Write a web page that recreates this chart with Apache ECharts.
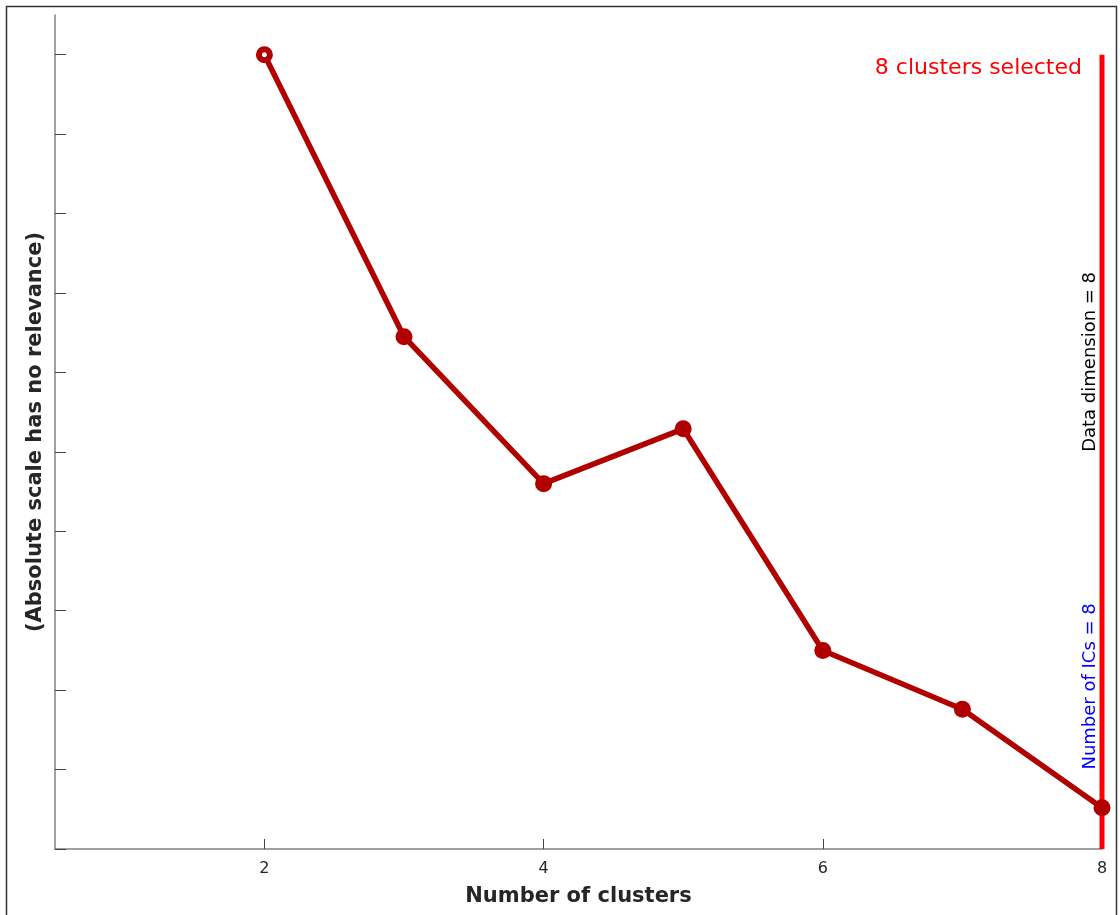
<!DOCTYPE html>
<html>
<head>
<meta charset="utf-8">
<script src="https://cdn.jsdelivr.net/npm/echarts@6/dist/echarts.min.js"></script>
<style>
  html, body { margin: 0; padding: 0; background: #fff; }
  #chart { width: 1120px; height: 915px; }
</style>
</head>
<body>
<div id="chart"></div>
<script>
// Cluster count vs. relative criterion value
const clusters = [2, 3, 4, 5, 6, 7, 8];
const scores = [10.0, 6.45, 4.60, 5.29, 2.50, 1.76, 0.52];
const xTicks = [2, 4, 6, 8];
const yTicks = [0, 1, 2, 3, 4, 5, 6, 7, 8, 9, 10];
const selectedK = 8;
const selectedTop = 10;
const dimensionLabelAt = 5;
const icLabelAt = 1;

const FONT = 'DejaVu Sans';

const chart = echarts.init(document.getElementById('chart'), null, { renderer: 'canvas' });

const pointData = clusters.map((k, i) => {
  const item = { value: [k, scores[i]] };
  if (i === 0) {
    // first solution drawn as an open marker
    item.itemStyle = { color: '#ffffff', borderColor: '#b00000', borderWidth: 6 };
    item.symbolSize = 11;
  }
  return item;
});

chart.setOption({
  animation: false,
  backgroundColor: '#ffffff',
  grid: { left: 55, right: 18, top: 15, bottom: 66, containLabel: false },
  graphic: [{
    type: 'rect',
    shape: { x: 6.5, y: 6.5, width: 1110, height: 930 },
    style: { fill: 'none', stroke: '#333', lineWidth: 1.5 },
    silent: true
  }],
  xAxis: {
    type: 'value',
    min: 0.5,
    max: 8,
    name: 'Number of clusters',
    nameLocation: 'middle',
    nameGap: 37,
    nameTextStyle: { fontFamily: FONT, fontWeight: 'bold', fontSize: 21, color: '#262626' },
    axisLine: { show: true, onZero: false, lineStyle: { color: '#808080', width: 1.5 } },
    axisTick: { show: true, inside: true, length: 10, customValues: xTicks, lineStyle: { color: '#444', width: 1 } },
    axisLabel: { show: true, customValues: xTicks, margin: 12, fontFamily: FONT, fontSize: 16, color: '#262626' },
    splitLine: { show: false }
  },
  yAxis: {
    type: 'value',
    min: 0,
    max: 10.5,
    interval: 1,
    name: '(Absolute scale has no relevance)',
    nameLocation: 'middle',
    nameGap: 9,
    nameTextStyle: { fontFamily: FONT, fontWeight: 'bold', fontSize: 21, color: '#262626' },
    axisLine: { show: true, onZero: false, lineStyle: { color: '#808080', width: 1.5 } },
    axisTick: { show: true, inside: true, length: 11, customValues: yTicks, lineStyle: { color: '#444', width: 1 } },
    axisLabel: { show: false },
    splitLine: { show: false }
  },
  series: [
    {
      name: 'selected',
      type: 'line',
      data: [[selectedK, 0], [selectedK, selectedTop]],
      symbol: 'none',
      lineStyle: { color: '#ff0000', width: 5 },
      z: 1,
      silent: true
    },
    {
      name: 'criterion',
      type: 'line',
      data: pointData,
      symbol: 'circle',
      symbolSize: 17,
      showAllSymbol: true,
      lineStyle: { color: '#b00000', width: 5.5 },
      itemStyle: { color: '#b00000' },
      z: 3
    },
    {
      name: 'notes',
      type: 'scatter',
      symbolSize: 0,
      silent: true,
      z: 4,
      itemStyle: { opacity: 1 },
      data: [
        {
          value: [selectedK, selectedTop],
          label: {
            show: true, formatter: selectedK + ' clusters selected',
            position: 'left', distance: 20, offset: [0, 14],
            fontFamily: FONT, fontSize: 22, color: '#ff0000',
            textBorderWidth: 0, opacity: 1
          }
        },
        {
          value: [selectedK, dimensionLabelAt],
          label: {
            show: true, formatter: 'Data dimension = ' + selectedK,
            position: 'inside', rotate: 90, align: 'left', verticalAlign: 'bottom',
            offset: [0, -3],
            fontFamily: FONT, fontSize: 18, color: '#000000',
            textBorderWidth: 0, opacity: 1
          }
        },
        {
          value: [selectedK, icLabelAt],
          label: {
            show: true, formatter: 'Number of ICs = ' + selectedK,
            position: 'inside', rotate: 90, align: 'left', verticalAlign: 'bottom',
            offset: [0, -3],
            fontFamily: FONT, fontSize: 18, color: '#0000ff',
            textBorderWidth: 0, opacity: 1
          }
        }
      ]
    }
  ]
});
</script>
</body>
</html>
